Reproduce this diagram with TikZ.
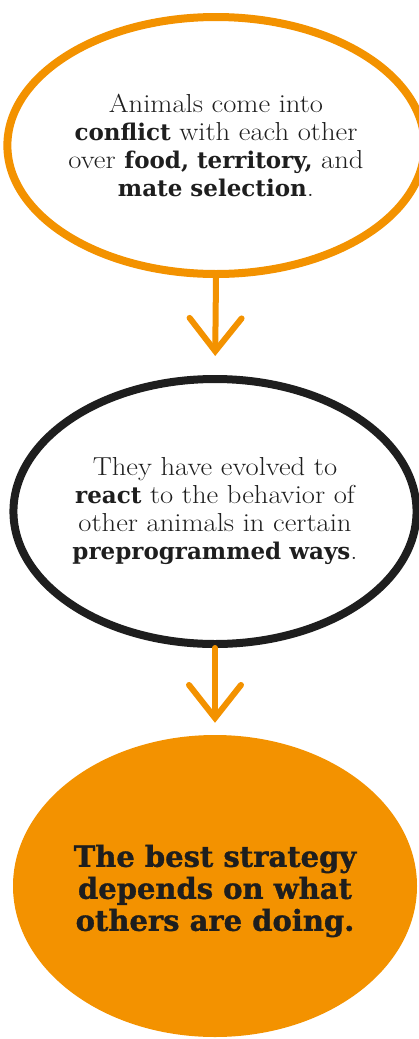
\documentclass[tikz,border=0pt]{standalone}
\usepackage{fontspec}
\usepackage{xcolor}
\usetikzlibrary{positioning, arrows.meta, shapes.geometric}

\setmainfont{Latin Modern Roman}[FakeStretch=1.1]
\newfontfamily\slab{DejaVu Serif}
\newfontfamily\slabheavy{DejaVu Serif Bold}[FakeBold=1.2]
\newcommand{\hl}[1]{{\fontsize{23}{28}\selectfont\slab\bfseries #1}}
\definecolor{bookorange}{HTML}{F39200}
\definecolor{inkblack}{HTML}{1E1E1E}

\begin{document}
\begin{tikzpicture}[x=1pt, y=-1pt,
    font=\fontsize{26}{28}\selectfont,
    bubble/.style={ellipse, inner sep=0pt, align=center, text=inkblack},
    flow/.style={draw=bookorange, line width=6pt, line cap=round,
      -{Straight Barb[length=33pt, width=52pt, line cap=round]}}]
    \useasboundingbox (0,0) rectangle (418,1039);
    \node[bubble, draw=bookorange, line width=8pt, minimum width=394pt, minimum height=257pt]
      (conflict) at (216,145.5) {Animals come into\\ \hl{conflict} with each other\\ over \hl{food, territory,} and\\ \hl{mate selection}.};
    \node[bubble, draw=inkblack, line width=8pt, minimum width=398pt, minimum height=265pt]
      (reaction) at (215,511.5) {They have evolved to\\ \hl{react} to the behavior of\\ other animals in certain\\ \hl{preprogrammed ways}.};
    \node[bubble, fill=bookorange, minimum width=404pt, minimum height=302pt]
      (strategy) at (215,886) {};
    \node[align=center, text=inkblack, font=\fontsize{29}{32}\selectfont\slabheavy]
      (strategytext) at ([yshift=-5pt]strategy.center) {The best strategy\\ depends on what\\ others are doing.};
    \draw[flow, shorten >=19pt] (conflict.south) -- (reaction.north);
    \draw[flow, shorten >=12pt] (reaction.south) -- (strategy.north);
  \end{tikzpicture}
\end{document}
